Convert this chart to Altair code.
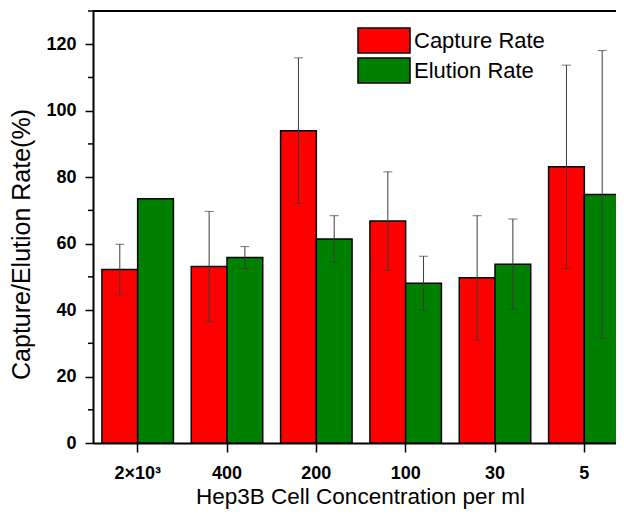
import altair as alt
import pandas as pd

conc = ["2×10³", "400", "200", "100", "30", "5"]
series = ["Capture Rate", "Elution Rate"]
capture = [52.2, 53.1, 94.0, 66.8, 49.7, 83.1]
capture_err = [7.6, 16.6, 21.9, 14.8, 18.7, 30.6]
elution = [73.5, 55.8, 61.4, 48.1, 53.8, 74.8]
elution_err = [None, 3.3, 7.0, 8.1, 13.6, 43.3]
y_major = [0, 20, 40, 60, 80, 100, 120]
y_minor = [10, 30, 50, 70, 90, 110, 130]

rows = []
for i, c in enumerate(conc):
    for s, vals, errs in ((series[0], capture, capture_err), (series[1], elution, elution_err)):
        e = errs[i]
        rows.append({
            "conc": c, "series": s, "value": vals[i],
            "lo": None if e is None else vals[i] - e,
            "hi": None if e is None else vals[i] + e,
        })
df = pd.DataFrame(rows)
minor_df = pd.DataFrame({"v": y_minor})

FONT = "Liberation Sans"
W, H = 523, 432
XR = 536  # band range extends past the visible (cropped) right edge

xscale = alt.Scale(range=[0, XR], paddingInner=0.2, paddingOuter=0.1)
offscale = alt.Scale(domain=series, paddingInner=0, paddingOuter=0)
yscale = alt.Scale(domain=[0, 130], nice=False, zero=True)

x_enc = alt.X("conc:N", sort=conc, scale=xscale, axis=alt.Axis(
    title="Hep3B Cell Concentration per ml", titleX=267, labelAngle=0, labelFont=FONT,
    labelFontSize=18, labelFontWeight="bold", labelColor="black", labelPadding=12,
    tickSize=9, tickWidth=1.5, tickColor="black", domainColor="black", domainWidth=2,
    titleFont=FONT, titleFontSize=22.5, titleFontWeight="normal", titleColor="black",
    titlePadding=3, grid=False))
y_enc = alt.Y("value:Q", scale=yscale, axis=alt.Axis(
    title="Capture/Elution Rate(%)", values=y_major, labelFont=FONT, labelFontSize=18,
    labelFontWeight="bold", labelColor="black", labelPadding=9, tickSize=8,
    tickWidth=1.5, tickColor="black", domainColor="black", domainWidth=2,
    titleFont=FONT, titleFontSize=25, titleFontWeight="normal", titleColor="black",
    titlePadding=11, titleY=233, grid=False))

base = alt.Chart(df)

bars = base.mark_bar(stroke="black", strokeWidth=1.5, opacity=1).encode(
    x=x_enc,
    xOffset=alt.XOffset("series:N", sort=series, scale=offscale),
    y=y_enc,
    color=alt.Color("series:N", sort=series,
                    scale=alt.Scale(domain=series, range=["#FF0000", "#008000"]),
                    legend=alt.Legend(
                        title=None, orient="none", legendX=277, legendY=15.5,
                        symbolType="M-2,-0.96H2V0.96H-2Z", symbolSize=676,
                        symbolStrokeColor="black", symbolStrokeWidth=1.5,
                        symbolOpacity=1, labelFont=FONT, labelFontSize=22,
                        labelColor="black", labelOffset=16, rowPadding=-4,
                        padding=0)),
)

err = base.transform_filter("isValid(datum.lo)")
rules = err.mark_rule(color="#3a3a3a", strokeWidth=1).encode(
    x=alt.X("conc:N", sort=conc, scale=xscale),
    xOffset=alt.XOffset("series:N", sort=series, scale=offscale),
    y=alt.Y("lo:Q", scale=yscale),
    y2="hi:Q",
)
caps_hi = err.mark_tick(color="#3a3a3a", thickness=1, size=9, orient="horizontal").encode(
    x=alt.X("conc:N", sort=conc, scale=xscale),
    xOffset=alt.XOffset("series:N", sort=series, scale=offscale),
    y=alt.Y("hi:Q", scale=yscale),
)
caps_lo = err.mark_tick(color="#3a3a3a", thickness=1, size=9, orient="horizontal").encode(
    x=alt.X("conc:N", sort=conc, scale=xscale),
    xOffset=alt.XOffset("series:N", sort=series, scale=offscale),
    y=alt.Y("lo:Q", scale=yscale),
)

minor = alt.Chart(minor_df).mark_rule(color="black", strokeWidth=1.5).encode(
    y=alt.Y("v:Q", scale=yscale),
    x=alt.value(-5), x2=alt.value(0),
)
top = alt.Chart(minor_df).mark_rule(color="black", strokeWidth=2).encode(
    y=alt.value(0), x=alt.value(0), x2=alt.value(XR),
)

chart = alt.layer(bars, rules, caps_hi, caps_lo, minor, top).properties(
    width=W, height=H,
    autosize=alt.AutoSizeParams(type="none"),
    padding={"left": 85, "top": 3, "right": 0, "bottom": 68},
    background="white",
).configure_view(stroke=None)

chart.save("out.html", embed_options={"renderer": "svg", "actions": False})
